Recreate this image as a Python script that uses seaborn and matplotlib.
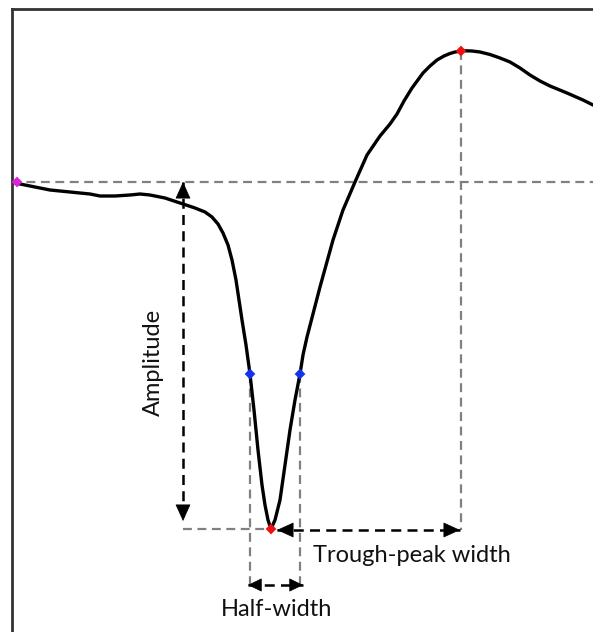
import numpy as np
import pandas as pd
import matplotlib
matplotlib.use('Agg')
import matplotlib.pyplot as plt
import seaborn as sns

sns.set_style('white')
plt.rcParams['font.family'] = ['Lato', 'DejaVu Sans']

# waveform (x: time, v: voltage, both in arbitrary units)
t = [15, 30, 50, 70, 90, 100, 115, 130, 140, 150, 165, 180, 195, 205, 212,
     218, 223, 228, 232, 236, 239, 242, 246, 250, 254, 258, 262, 265, 268,
     271, 275, 280, 285, 290, 295, 300, 303, 307, 320, 333, 343, 355, 367,
     380, 390, 397, 404, 412, 423, 430, 437, 444, 450, 455, 461, 466, 472,
     480, 490, 500, 510, 520, 530, 540, 550, 567, 583, 593]
v = [-183, -186, -190, -192, -194, -196, -196, -195, -194, -195, -198, -203,
     -208, -212, -217, -224, -233, -245, -260, -280, -300, -320, -345, -374,
     -410, -450, -485, -505, -520, -529, -520, -500, -465, -430, -400, -374,
     -355, -337, -287, -240, -210, -182, -155, -136, -124, -114, -101, -88,
     -73, -66, -60, -56, -53.5, -52, -51, -50.8, -51, -52, -54.5, -58, -62,
     -68, -75, -81, -86, -93, -100, -105]

# feature points
baseline_t, baseline_v = 17, -182
trough_t, trough_v = 271, -529
peak_t, peak_v = 461, -51
half_t = [250, 300]
half_v = [-374, -374]

# annotation layout
amp_x = 183
amp_tip_v = [-182, -521]
tp_tips = [277, 460]
tp_v = -530
half_arrow_v = -585
half_guide_end = -588
labels = ['Amplitude', 'Trough-peak width', 'Half-width']

fig = plt.figure(figsize=(5.93, 6.32), dpi=100)
ax = fig.add_axes([12 / 593, 0, 581 / 593, 623 / 632])
ax.set_xlim(12, 593)
ax.set_ylim(-632, -9)
ax.set_xticks([])
ax.set_yticks([])
for side in ['right', 'bottom']:
    ax.spines[side].set_visible(False)
for side in ['left', 'top']:
    ax.spines[side].set_color('#333333')
    ax.spines[side].set_linewidth(2)

guide = dict(color='#808080', lw=1.6, ls=(0, (4, 2.5)), zorder=1)
# baseline
ax.axhline(baseline_v, **guide)
# peak drop line
ax.plot([peak_t, peak_t], [peak_v, tp_v], **guide)
# trough level
ax.plot([amp_x, trough_t], [trough_v, trough_v], **guide)
# half-width guides
for ht, hv in zip(half_t, half_v):
    ax.plot([ht, ht], [hv, half_guide_end], **guide)

# waveform
wave = pd.DataFrame({'t': t, 'v': v})
sns.lineplot(data=wave, x='t', y='v', color='black', lw=2.4, ax=ax, zorder=3,
             solid_joinstyle='round')

# markers
pts = pd.DataFrame({
    't': [baseline_t, trough_t, peak_t] + half_t,
    'v': [baseline_v, trough_v, peak_v] + half_v,
    'kind': ['base', 'ext', 'ext', 'half', 'half'],
})
sns.scatterplot(data=pts, x='t', y='v', hue='kind', marker='D', s=30,
                palette={'base': '#dd22dd', 'ext': '#ee1111', 'half': '#1133ee'},
                edgecolor='none', legend=False, ax=ax, zorder=4, clip_on=False)

ax.set_xlabel('')
ax.set_ylabel('')


def dashed_arrow(p0, p1, hl=0.55, hw=0.25):
    ax.plot([p0[0], p1[0]], [p0[1], p1[1]], color='black', lw=1.8,
            ls=(0, (4, 2.5)), zorder=5)
    for a, b in [(p0, p1), (p1, p0)]:
        d = np.array(a, float) - np.array(b, float)
        d = d / np.hypot(*d)
        ax.annotate('', xy=a, xytext=(a[0] - d[0] * 2, a[1] - d[1] * 2),
                    arrowprops=dict(arrowstyle=f'-|>,head_length={hl},head_width={hw}',
                                    color='black', lw=0.5, shrinkA=0, shrinkB=0,
                                    mutation_scale=20), zorder=6)


dashed_arrow((amp_x, amp_tip_v[0]), (amp_x, amp_tip_v[1]))
dashed_arrow((tp_tips[0], tp_v), (tp_tips[1], tp_v))
dashed_arrow((half_t[0] - 2, half_arrow_v), (half_t[1] + 3, half_arrow_v), hl=0.45, hw=0.22)

ax.text(153, -362, labels[0], rotation=90, ha='center', va='center',
        fontsize=17, color='#111111')
ax.text(313, -556, labels[1], ha='left', va='center', fontsize=17, color='#111111')
ax.text(277, -610, labels[2], ha='center', va='center', fontsize=17, color='#111111')

fig.savefig('out.png', dpi=100)
